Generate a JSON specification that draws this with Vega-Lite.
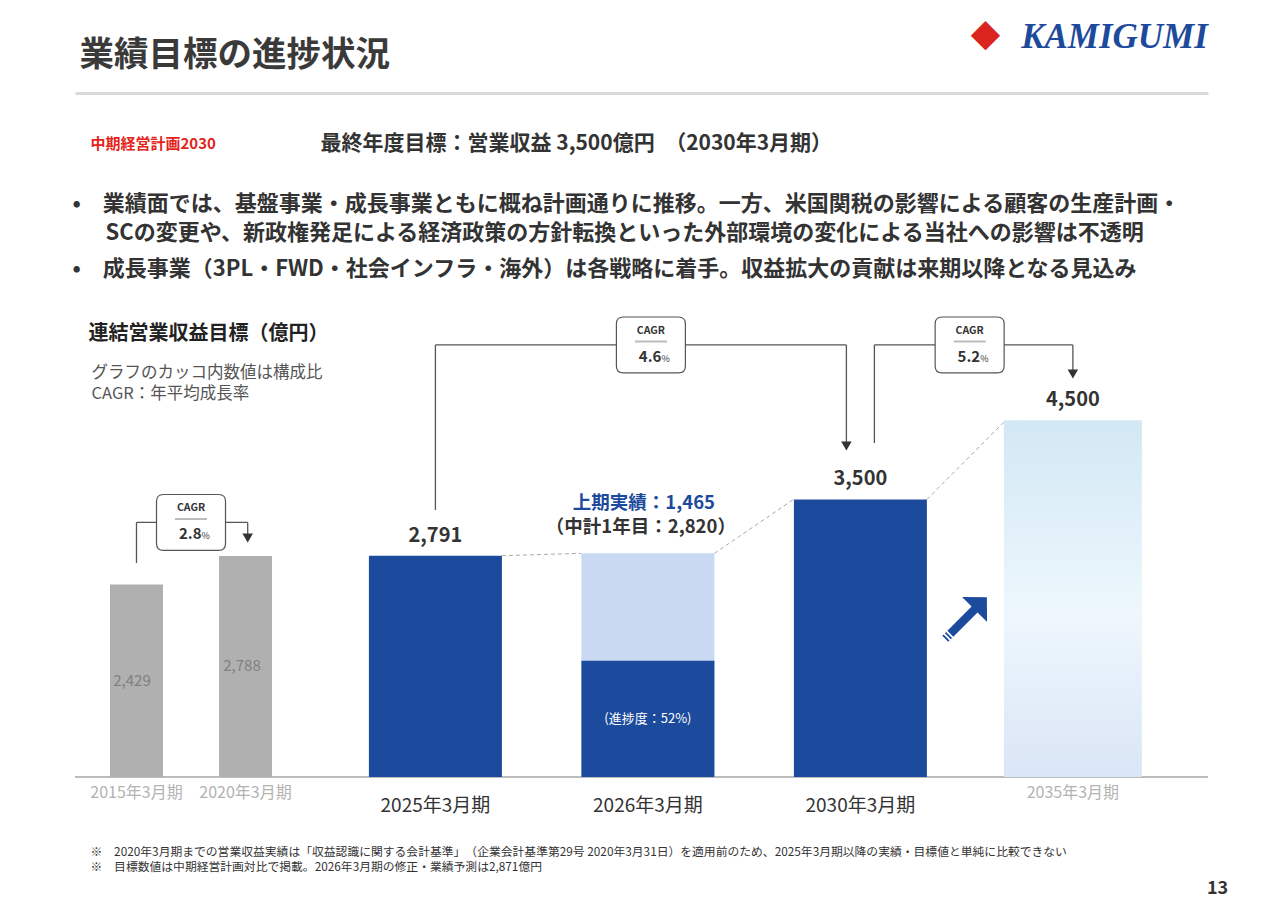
{
  "$schema": "https://vega.github.io/schema/vega-lite/v6.json",
  "width": 1133,
  "height": 477,
  "autosize": {"type": "none"},
  "padding": {"left": 75, "top": 300, "right": 72, "bottom": 128},
  "background": "#ffffff",
  "config": {
    "view": {"stroke": null},
    "font": "Noto Sans CJK JP",
    "text": {"font": "Noto Sans CJK JP"},
    "axis": {"labels": false, "ticks": false, "domain": false, "grid": false, "titleFont": "Noto Sans CJK JP"}
  },
  "datasets": {
    "bars": [
      {"period": "2015年3月期", "year": 2015, "value": 2429, "series": "実績（旧基準）"},
      {"period": "2020年3月期", "year": 2020, "value": 2788, "series": "実績（旧基準）"},
      {"period": "2025年3月期", "year": 2025, "value": 2791, "series": "実績"},
      {"period": "2026年3月期", "year": 2026, "value": 2820, "series": "中計1年目", "label": "（中計1年目：2,820）"},
      {"period": "2026年3月期", "year": 2026, "value": 1465, "series": "上期実績", "label": "上期実績：1,465", "progress": "(進捗度：52%)"},
      {"period": "2030年3月期", "year": 2030, "value": 3500, "series": "目標"},
      {"period": "2035年3月期", "year": 2035, "value": 4500, "series": "長期目標"}
    ],
    "cagr": [
      {"from": "2015年3月期", "to": "2020年3月期", "cagr": "2.8"},
      {"from": "2025年3月期", "to": "2030年3月期", "cagr": "4.6"},
      {"from": "2030年3月期", "to": "2035年3月期", "cagr": "5.2"}
    ],
    "connectors": [
      {"from": "2025年3月期", "to": "2026年3月期", "v1": 2791, "v2": 2820},
      {"from": "2026年3月期", "to": "2030年3月期", "v1": 2820, "v2": 3500},
      {"from": "2030年3月期", "to": "2035年3月期", "v1": 3500, "v2": 4500}
    ]
  },
  "resolve": {"scale": {"x": "independent", "y": "independent"}},
  "layer": [
    {
      "data": {"name": "bars"},
      "transform": [{"aggregate": [{"op": "count", "as": "n"}]}],
      "mark": {"type": "rule", "color": "#a6a6a6", "strokeWidth": 1.3},
      "encoding": {
        "y": {
          "datum": 0, "type": "quantitative", "scale": {"domain": [0, 6015], "nice": false},
          "axis": {
            "orient": "left", "title": "業績目標の進捗状況",
            "titleAngle": 0, "titleX": 4, "titleY": -245, "titleAlign": "left", "titleBaseline": "middle",
            "titleFontSize": 34.5, "titleFontWeight": "bold", "titleColor": "#3a3a3a"
          }
        }
      }
    },
    {
      "data": {"name": "bars"},
      "transform": [{"filter": {"field": "series", "equal": "実績（旧基準）"}}],
      "layer": [
        {
          "mark": {"type": "bar", "width": 53, "color": "#b0b0b0"},
          "encoding": {
            "x": {
              "field": "year", "type": "quantitative",
              "scale": {"domain": [2012.409, 2063.909], "nice": false, "zero": false},
              "axis": {
                "orient": "bottom",
                "title": [
                  "※　2020年3月期までの営業収益実績は「収益認識に関する会計基準」　（企業会計基準第29号 2020年3月31日）を適用前のため、2025年3月期以降の実績・目標値と単純に比較できない",
                  "※　目標数値は中期経営計画対比で掲載。2026年3月期の修正・業績予測は2,871億円"
                ],
                "titleX": 15, "titleY": 69, "titleAlign": "left", "titleBaseline": "top",
                "titleFontSize": 11.8, "titleFontWeight": "normal", "titleColor": "#333333", "titleLineHeight": 15
              }
            },
            "y": {
              "field": "value", "type": "quantitative",
              "scale": {"domain": [0, 6015], "nice": false},
              "axis": {
                "orient": "left",
                "title": "連結営業収益目標（億円）",
                "titleAngle": 0, "titleX": 13, "titleY": 33, "titleAlign": "left", "titleBaseline": "middle",
                "titleFontSize": 20, "titleFontWeight": "bold", "titleColor": "#222222"
              }
            }
          }
        },
        {
          "mark": {"type": "text", "fontSize": 16, "color": "#b3b3b3", "dy": 16},
          "encoding": {
            "x": {"field": "year", "type": "quantitative"},
            "y": {"datum": 0},
            "text": {"field": "period"}
          }
        },
        {
          "data": {"name": "cagr"},
          "transform": [{"filter": {"field": "from", "equal": "2015年3月期"}}],
          "layer": [
            {"mark": {"type": "rule", "color": "#555555", "strokeWidth": 1.3},
             "encoding": {"x": {"datum": 2015}, "y": {"datum": 2699}, "y2": {"datum": 3210}}},
            {"mark": {"type": "rule", "color": "#555555", "strokeWidth": 1.3},
             "encoding": {"x": {"datum": 2015}, "x2": {"datum": 2020.1}, "y": {"datum": 3210}}},
            {"mark": {"type": "rule", "color": "#555555", "strokeWidth": 1.3},
             "encoding": {"x": {"datum": 2020.1}, "y": {"datum": 3210}, "y2": {"datum": 3014}}},
            {"mark": {"type": "point", "shape": "triangle-down", "filled": true, "color": "#333333", "opacity": 1, "size": 110},
             "encoding": {"x": {"datum": 2020.1}, "y": {"datum": 3014}}},
            {"mark": {"type": "point", "shape": "M-0.8,-0.81L0.8,-0.81Q1,-0.81,1,-0.61L1,0.61Q1,0.81,0.8,0.81L-0.8,0.81Q-1,0.81,-1,0.61L-1,-0.61Q-1,-0.81,-0.8,-0.81Z", "size": 4761, "filled": true, "fill": "#ffffff", "stroke": "#555555", "strokeWidth": 1.2, "opacity": 1},
             "encoding": {"x": {"datum": 2017.5}, "y": {"datum": 3210}}},
            {"mark": {"type": "text", "text": "CAGR", "fontSize": 10.5, "fontWeight": "bold", "color": "#333333", "dy": -14},
             "encoding": {"x": {"datum": 2017.5}, "y": {"datum": 3210}}},
            {"mark": {"type": "point", "shape": "stroke", "size": 1024, "color": "#bbbbbb", "strokeWidth": 2, "opacity": 1, "yOffset": -3.5},
             "encoding": {"x": {"datum": 2017.5}, "y": {"datum": 3210}}},
            {"mark": {"type": "text", "fontSize": 15, "fontWeight": "bold", "color": "#333333", "align": "right", "dx": 10.5, "dy": 12},
             "encoding": {"x": {"datum": 2017.5}, "y": {"datum": 3210}, "text": {"field": "cagr"}}},
            {"mark": {"type": "text", "text": "%", "fontSize": 9, "color": "#333333", "align": "left", "dx": 10.5, "dy": 14},
             "encoding": {"x": {"datum": 2017.5}, "y": {"datum": 3210}}}
          ]
        }
      ]
    },
    {
      "data": {"name": "bars"},
      "transform": [{"filter": {"field": "series", "oneOf": ["実績", "中計1年目", "上期実績", "目標", "長期目標"]}}],
      "layer": [
        {
          "data": {"name": "connectors"},
          "mark": {"type": "rule", "color": "#aaaaaa", "strokeWidth": 1, "strokeDash": [4, 3], "xOffset": 66.5, "x2Offset": -67},
          "encoding": {
            "x": {"field": "from", "type": "nominal"},
            "x2": {"field": "to"},
            "y": {"field": "v1", "type": "quantitative"},
            "y2": {"field": "v2"}
          }
        },
        {
          "transform": [{"filter": {"field": "series", "oneOf": ["実績", "中計1年目", "上期実績", "目標"]}}],
          "mark": {"type": "bar", "width": 133},
          "encoding": {
            "x": {
              "field": "period", "type": "nominal",
              "scale": {"type": "band", "domain": ["2025年3月期", "2026年3月期", "2030年3月期", "2035年3月期"], "paddingInner": 0, "paddingOuter": 0.666, "align": 0.898},
              "axis": {
                "orient": "top", "domain": true, "domainColor": "#d9d9d9", "domainWidth": 3, "offset": 207,
                "title": "KAMIGUMI", "titleX": 1039, "titleY": -57, "titleAlign": "center", "titleBaseline": "middle",
                "titleFont": "Liberation Serif", "titleFontSize": 35, "titleFontStyle": "italic", "titleFontWeight": "bold", "titleColor": "#1d4a9b"
              }
            },
            "y": {
              "field": "value", "type": "quantitative", "stack": null,
              "scale": {"domain": [0, 6015], "nice": false},
              "axis": {
                "orient": "right",
                "title": ["グラフのカッコ内数値は構成比", "CAGR：年平均成長率"],
                "titleAngle": 0, "titleX": -1117, "titleY": 64, "titleAlign": "left", "titleBaseline": "top",
                "titleFontSize": 16.5, "titleFontWeight": "normal", "titleColor": "#555555", "titleLineHeight": 21
              }
            },
            "color": {
              "field": "series", "type": "nominal",
              "scale": {"domain": ["実績", "中計1年目", "上期実績", "目標"], "range": ["#1c4a9c", "#c9d9f2", "#1c4a9c", "#1c4a9c"]},
              "legend": null
            }
          }
        },
        {
          "transform": [{"filter": {"field": "series", "equal": "長期目標"}}],
          "mark": {
            "type": "bar", "width": 138,
            "color": {"gradient": "linear", "x1": 0, "y1": 0, "x2": 0, "y2": 1,
              "stops": [{"offset": 0, "color": "#d2e8f4"}, {"offset": 0.55, "color": "#eef7fd"}, {"offset": 1, "color": "#dae5f6"}]}
          },
          "encoding": {
            "x": {"field": "period", "type": "nominal"},
            "y": {"field": "value", "type": "quantitative"}
          }
        },
        {
          "transform": [{"filter": {"field": "series", "oneOf": ["実績", "目標", "長期目標"]}}],
          "mark": {"type": "text", "fontSize": 20, "fontWeight": "bold", "color": "#333333", "dy": -20},
          "encoding": {
            "x": {"field": "period", "type": "nominal"},
            "y": {"field": "value", "type": "quantitative"},
            "text": {"field": "value", "type": "quantitative", "format": ","}
          }
        },
        {
          "transform": [{"filter": {"field": "series", "equal": "中計1年目"}}],
          "mark": {"type": "text", "fontSize": 18.5, "fontWeight": "bold", "color": "#333333", "dy": -26, "dx": -7},
          "encoding": {
            "x": {"field": "period", "type": "nominal"},
            "y": {"field": "value", "type": "quantitative"},
            "text": {"field": "label"}
          }
        },
        {
          "transform": [{"filter": {"field": "series", "equal": "上期実績"}}],
          "mark": {"type": "text", "fontSize": 18.5, "fontWeight": "bold", "color": "#1c4a9c", "dy": -50, "dx": -4},
          "encoding": {
            "x": {"field": "period", "type": "nominal"},
            "y": {"datum": 2820},
            "text": {"field": "label"}
          }
        },
        {
          "transform": [{"filter": {"field": "series", "oneOf": ["実績", "中計1年目", "目標"]}}],
          "mark": {"type": "text", "fontSize": 19, "color": "#333333", "dy": 29},
          "encoding": {
            "x": {"field": "period", "type": "nominal"},
            "y": {"datum": 0},
            "text": {"field": "period"}
          }
        },
        {
          "transform": [{"filter": {"field": "series", "equal": "長期目標"}}],
          "mark": {"type": "text", "fontSize": 16, "color": "#b3b3b3", "dy": 16},
          "encoding": {
            "x": {"field": "period", "type": "nominal"},
            "y": {"datum": 0},
            "text": {"field": "period"}
          }
        },
        {
          "data": {"name": "cagr"},
          "transform": [{"filter": {"field": "from", "equal": "2025年3月期"}}],
          "layer": [
            {"mark": {"type": "rule", "color": "#555555", "strokeWidth": 1.3},
             "encoding": {"x": {"field": "from", "type": "nominal"}, "y": {"datum": 3367}, "y2": {"datum": 5448}}},
            {"mark": {"type": "rule", "color": "#555555", "strokeWidth": 1.3, "x2Offset": -14},
             "encoding": {"x": {"field": "from", "type": "nominal"}, "x2": {"field": "to"}, "y": {"datum": 5448}}},
            {"mark": {"type": "rule", "color": "#555555", "strokeWidth": 1.3, "xOffset": -14},
             "encoding": {"x": {"field": "to", "type": "nominal"}, "y": {"datum": 5448}, "y2": {"datum": 4174}}},
            {"mark": {"type": "point", "shape": "triangle-down", "filled": true, "color": "#333333", "opacity": 1, "size": 110, "xOffset": -14},
             "encoding": {"x": {"field": "to", "type": "nominal"}, "y": {"datum": 4174}}},
            {"mark": {"type": "point", "shape": "M-0.8,-0.81L0.8,-0.81Q1,-0.81,1,-0.61L1,0.61Q1,0.81,0.8,0.81L-0.8,0.81Q-1,0.81,-1,0.61L-1,-0.61Q-1,-0.81,-0.8,-0.81Z", "size": 4761, "filled": true, "fill": "#ffffff", "stroke": "#555555", "strokeWidth": 1.2, "opacity": 1, "xOffset": 3},
             "encoding": {"x": {"datum": "2026年3月期"}, "y": {"datum": 5448}}},
            {"mark": {"type": "text", "text": "CAGR", "fontSize": 10.5, "fontWeight": "bold", "color": "#333333", "dy": -14, "dx": 3},
             "encoding": {"x": {"datum": "2026年3月期"}, "y": {"datum": 5448}}},
            {"mark": {"type": "point", "shape": "stroke", "size": 1024, "color": "#bbbbbb", "strokeWidth": 2, "opacity": 1, "yOffset": -3.5, "xOffset": 3},
             "encoding": {"x": {"datum": "2026年3月期"}, "y": {"datum": 5448}}},
            {"mark": {"type": "text", "fontSize": 15, "fontWeight": "bold", "color": "#333333", "align": "right", "dx": 13.5, "dy": 12},
             "encoding": {"x": {"datum": "2026年3月期"}, "y": {"datum": 5448}, "text": {"field": "cagr"}}},
            {"mark": {"type": "text", "text": "%", "fontSize": 9, "color": "#333333", "align": "left", "dx": 13.5, "dy": 14},
             "encoding": {"x": {"datum": "2026年3月期"}, "y": {"datum": 5448}}}
          ]
        },
        {
          "data": {"name": "cagr"},
          "transform": [{"filter": {"field": "from", "equal": "2030年3月期"}}],
          "layer": [
            {"mark": {"type": "rule", "color": "#555555", "strokeWidth": 1.3, "xOffset": 14},
             "encoding": {"x": {"field": "from", "type": "nominal"}, "y": {"datum": 4212}, "y2": {"datum": 5448}}},
            {"mark": {"type": "rule", "color": "#555555", "strokeWidth": 1.3, "xOffset": 14},
             "encoding": {"x": {"field": "from", "type": "nominal"}, "x2": {"field": "to"}, "y": {"datum": 5448}}},
            {"mark": {"type": "rule", "color": "#555555", "strokeWidth": 1.3},
             "encoding": {"x": {"field": "to", "type": "nominal"}, "y": {"datum": 5448}, "y2": {"datum": 5082}}},
            {"mark": {"type": "point", "shape": "triangle-down", "filled": true, "color": "#333333", "opacity": 1, "size": 110},
             "encoding": {"x": {"field": "to", "type": "nominal"}, "y": {"datum": 5082}}},
            {"mark": {"type": "point", "shape": "M-0.8,-0.81L0.8,-0.81Q1,-0.81,1,-0.61L1,0.61Q1,0.81,0.8,0.81L-0.8,0.81Q-1,0.81,-1,0.61L-1,-0.61Q-1,-0.81,-0.8,-0.81Z", "size": 4761, "filled": true, "fill": "#ffffff", "stroke": "#555555", "strokeWidth": 1.2, "opacity": 1, "xOffset": 3},
             "encoding": {"x": {"field": "from", "type": "nominal", "bandPosition": 1}, "y": {"datum": 5448}}},
            {"mark": {"type": "text", "text": "CAGR", "fontSize": 10.5, "fontWeight": "bold", "color": "#333333", "dy": -14, "dx": 3},
             "encoding": {"x": {"field": "from", "type": "nominal", "bandPosition": 1}, "y": {"datum": 5448}}},
            {"mark": {"type": "point", "shape": "stroke", "size": 1024, "color": "#bbbbbb", "strokeWidth": 2, "opacity": 1, "yOffset": -3.5, "xOffset": 3},
             "encoding": {"x": {"field": "from", "type": "nominal", "bandPosition": 1}, "y": {"datum": 5448}}},
            {"mark": {"type": "text", "fontSize": 15, "fontWeight": "bold", "color": "#333333", "align": "right", "dx": 13.5, "dy": 12},
             "encoding": {"x": {"field": "from", "type": "nominal", "bandPosition": 1}, "y": {"datum": 5448}, "text": {"field": "cagr"}}},
            {"mark": {"type": "text", "text": "%", "fontSize": 9, "color": "#333333", "align": "left", "dx": 13.5, "dy": 14},
             "encoding": {"x": {"field": "from", "type": "nominal", "bandPosition": 1}, "y": {"datum": 5448}}}
          ]
        }
      ]
    },
    {
      "data": {"name": "cagr"},
      "transform": [{"filter": {"field": "from", "equal": "2030年3月期"}}],
      "mark": {"type": "point", "shape": "M-0.72,-0.14L0.42,-0.14L0.42,-0.59L1,0L0.42,0.59L0.42,0.14L-0.72,0.14ZM-0.84,-0.14L-0.78,-0.14L-0.78,0.14L-0.84,0.14ZM-0.96,-0.14L-0.9,-0.14L-0.9,0.14L-0.96,0.14Z", "size": 3600, "angle": -45, "filled": true, "color": "#1c4a9c", "opacity": 1, "xOffset": -1},
      "encoding": {
        "x": {
          "field": "from", "type": "nominal", "bandPosition": 1,
          "scale": {"type": "band", "domain": ["2025年3月期", "2026年3月期", "2030年3月期", "2035年3月期"], "paddingInner": 0, "paddingOuter": 0.666, "align": 0.898},
          "axis": {
            "orient": "top", "title": "◆",
            "titleX": 910, "titleY": -263, "titleAlign": "center", "titleBaseline": "middle",
            "titleFontSize": 30, "titleFontWeight": "normal", "titleColor": "#d9251d"
          }
        },
        "y": {
          "datum": 2000, "type": "quantitative",
          "scale": {"domain": [0, 6015], "nice": false},
          "axis": {
            "orient": "left",
            "title": "SCの変更や、新政権発足による経済政策の方針転換といった外部環境の変化による当社への影響は不透明",
            "titleAngle": 0, "titleX": 30, "titleY": -78, "titleAlign": "left", "titleBaseline": "top",
            "titleFontSize": 22, "titleFontWeight": "bold", "titleColor": "#333333"
          }
        }
      }
    },
    {
      "data": {"name": "bars"},
      "transform": [{"filter": {"field": "series", "equal": "実績（旧基準）"}}],
      "mark": {"type": "text", "fontSize": 15, "color": "#808080"},
      "encoding": {
        "x": {
          "field": "year", "type": "quantitative",
          "scale": {"domain": [2012.409, 2063.909], "nice": false, "zero": false},
          "axis": {
            "orient": "top", "title": "中期経営計画2030",
            "titleX": 15, "titleY": -157, "titleAlign": "left", "titleBaseline": "middle",
            "titleFontSize": 15, "titleFontWeight": "bold", "titleColor": "#e3241b"
          }
        },
        "y": {
          "field": "value", "type": "quantitative",
          "scale": {"domain": [0, 12030], "nice": false},
          "axis": {
            "orient": "right", "title": "13", "titleAngle": 0, "titleX": 9, "titleY": 588,
            "titleAlign": "center", "titleBaseline": "middle", "titleFontSize": 18, "titleFontWeight": "bold", "titleColor": "#333333"
          }
        },
        "text": {"field": "value", "type": "quantitative", "format": ","}
      }
    },
    {
      "data": {"name": "bars"},
      "transform": [{"filter": {"field": "series", "equal": "上期実績"}}],
      "mark": {"type": "text", "fontSize": 13, "color": "#ffffff"},
      "encoding": {
        "x": {
          "field": "period", "type": "nominal",
          "scale": {"type": "band", "domain": ["2025年3月期", "2026年3月期", "2030年3月期", "2035年3月期"], "paddingInner": 0, "paddingOuter": 0.666, "align": 0.898},
          "axis": {
            "orient": "top", "title": "最終年度目標：営業収益 3,500億円　（2030年3月期）",
            "titleX": 245, "titleY": -157, "titleAlign": "left", "titleBaseline": "middle",
            "titleFontSize": 21, "titleFontWeight": "bold", "titleColor": "#333333"
          }
        },
        "y": {
          "field": "value", "type": "quantitative",
          "scale": {"domain": [0, 12030], "nice": false},
          "axis": {
            "orient": "left",
            "title": [
              "•　業績面では、基盤事業・成長事業ともに概ね計画通りに推移。一方、米国関税の影響による顧客の生産計画・",
              "•　成長事業（3PL・FWD・社会インフラ・海外）は各戦略に着手。収益拡大の貢献は来期以降となる見込み"
            ],
            "titleAngle": 0, "titleX": -3, "titleY": -107, "titleAlign": "left", "titleBaseline": "top",
            "titleFontSize": 22, "titleFontWeight": "bold", "titleColor": "#333333", "titleLineHeight": 65
          }
        },
        "text": {"field": "progress"}
      }
    }
  ]
}
